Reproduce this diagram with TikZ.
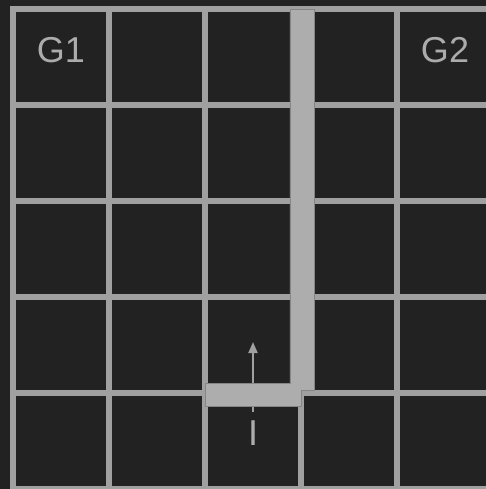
\documentclass[tikz,border=0pt]{standalone}
\usepackage{fontspec}
\setmainfont{Liberation Sans}
\usetikzlibrary{arrows.meta}

\definecolor{bgdark}{HTML}{222222}
\definecolor{gridgray}{HTML}{A0A0A0}
\definecolor{wallgray}{HTML}{ADADAD}
\definecolor{walledge}{HTML}{858585}
\definecolor{textgray}{HTML}{ACACAC}

\begin{document}
\begin{tikzpicture}[x=96pt, y=96pt,
    gridline/.style={gridgray, line width=6pt, line cap=rect},
    wall/.style={fill=wallgray, draw=walledge, line width=0.5pt},
    cell label/.style={text=textgray, font=\fontsize{36}{40}\selectfont, inner sep=0pt}]

      % Background and frame of the picture
      \fill[bgdark] (-13/96,0) rectangle (473/96,489/96);
      \useasboundingbox (-13/96,0) rectangle (473/96,489/96);

      % Draw the grid
      \foreach \i in {0,...,5} {
        \draw[gridline] (\i,0) -- (\i,5);
        \draw[gridline] (0,\i) -- (5,\i);
      }

      % Start cell and its move
      \node[cell label] (I) at (2.5,0.583) {I};
      \coordinate (up) at (2.5,1.531);
      \draw[-{Triangle[width=9pt,length=11pt]}, gridgray, line width=2pt, shorten <=8pt]
        (I) -- (up);

      % Wall
      \filldraw[wall] (2,0.865) -- (3,0.865) -- (3,1.031) -- (3.135,1.031)
        -- (3.135,5) -- (2.885,5) -- (2.885,1.104) -- (2,1.104) -- cycle;

      % Goal cells
      \node[cell label] (G1) at (0.5,4.573) {G1};
      \node[cell label] (G2) at (4.5,4.573) {G2};
    \end{tikzpicture}
\end{document}
